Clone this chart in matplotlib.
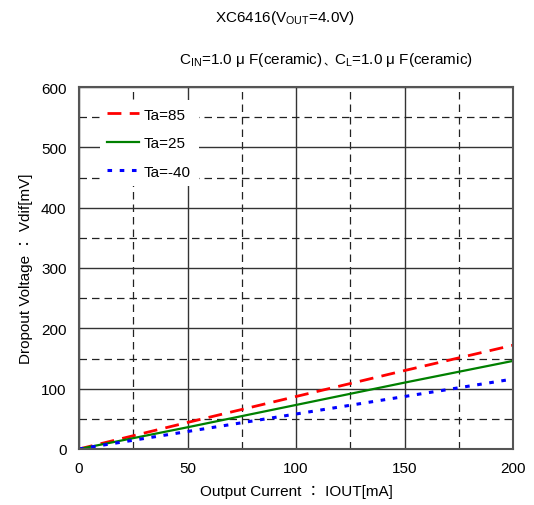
import matplotlib
matplotlib.use("Agg")
import matplotlib.pyplot as plt
from matplotlib.ticker import MultipleLocator

plt.rcParams['font.family'] = ['Liberation Sans', 'Noto Sans CJK JP', 'DejaVu Sans']
plt.rcParams['mathtext.fontset'] = 'custom'
plt.rcParams['mathtext.rm'] = 'Liberation Sans'

# data
iout = [0, 50, 100, 150, 200]
vdif_85 = [0, 44, 87, 130, 172]
vdif_25 = [0, 36, 73, 110, 146]
vdif_m40 = [0, 29, 58, 87, 116]

fig = plt.figure(figsize=(5.34, 5.06), dpi=100)
ax = fig.add_axes([79/534, 1 - 450/506, 434/534, 362/506])

ax.plot(iout, vdif_85, color='#ff0000', ls=(0, (5, 3)), lw=2, label='Ta=85')
ax.plot(iout, vdif_25, color='#008000', ls='-', lw=1.6, label='Ta=25')
ax.plot(iout, vdif_m40, color='#0000ff', ls=(0, (1.5, 2.5)), lw=2.2, label='Ta=-40')

ax.set_xlim(0, 200)
ax.set_ylim(0, 600)
ax.xaxis.set_major_locator(MultipleLocator(50))
ax.xaxis.set_minor_locator(MultipleLocator(25))
ax.yaxis.set_major_locator(MultipleLocator(100))
ax.yaxis.set_minor_locator(MultipleLocator(50))
ax.grid(which='major', color='#333333', lw=1.0, ls='-')
ax.grid(which='minor', color='#222222', lw=0.9, ls=(0, (6, 4)))
ax.set_axisbelow(True)
ax.tick_params(which='both', length=0, labelsize=11, pad=9)
for s in ax.spines.values():
    s.set_color('#555555')
    s.set_linewidth(1.5)

ax.set_xlabel('Output Current ： IOUT[mA]', fontsize=11, labelpad=6)
ax.set_ylabel('Dropout Voltage ： Vdif[mV]', fontsize=11, labelpad=6)

leg = ax.legend(loc='upper left', bbox_to_anchor=(0.03, 0.985), fontsize=11,
                frameon=True, fancybox=False, handlelength=2.1, handletextpad=0.3,
                labelspacing=0.95, borderpad=0.5)
leg.get_frame().set_facecolor('white')
leg.get_frame().set_edgecolor('none')
leg.get_frame().set_alpha(1)

fig.text(285/534, 1 - 18/506, r'XC6416(V$_{\mathregular{OUT}}$=4.0V)', fontsize=11,
         ha='center', va='center')
fig.text(323/534, 1 - 60/506, r'C$_{\mathregular{IN}}$=1.0 μ F(ceramic)', fontsize=11,
         ha='right', va='center')
fig.text(323.5/534, 1 - 62/506, '、', fontsize=8, ha='left', va='center')
fig.text(334.5/534, 1 - 60/506, r'C$_{\mathregular{L}}$=1.0 μ F(ceramic)', fontsize=11,
         ha='left', va='center')

fig.savefig('out.png', dpi=100)
